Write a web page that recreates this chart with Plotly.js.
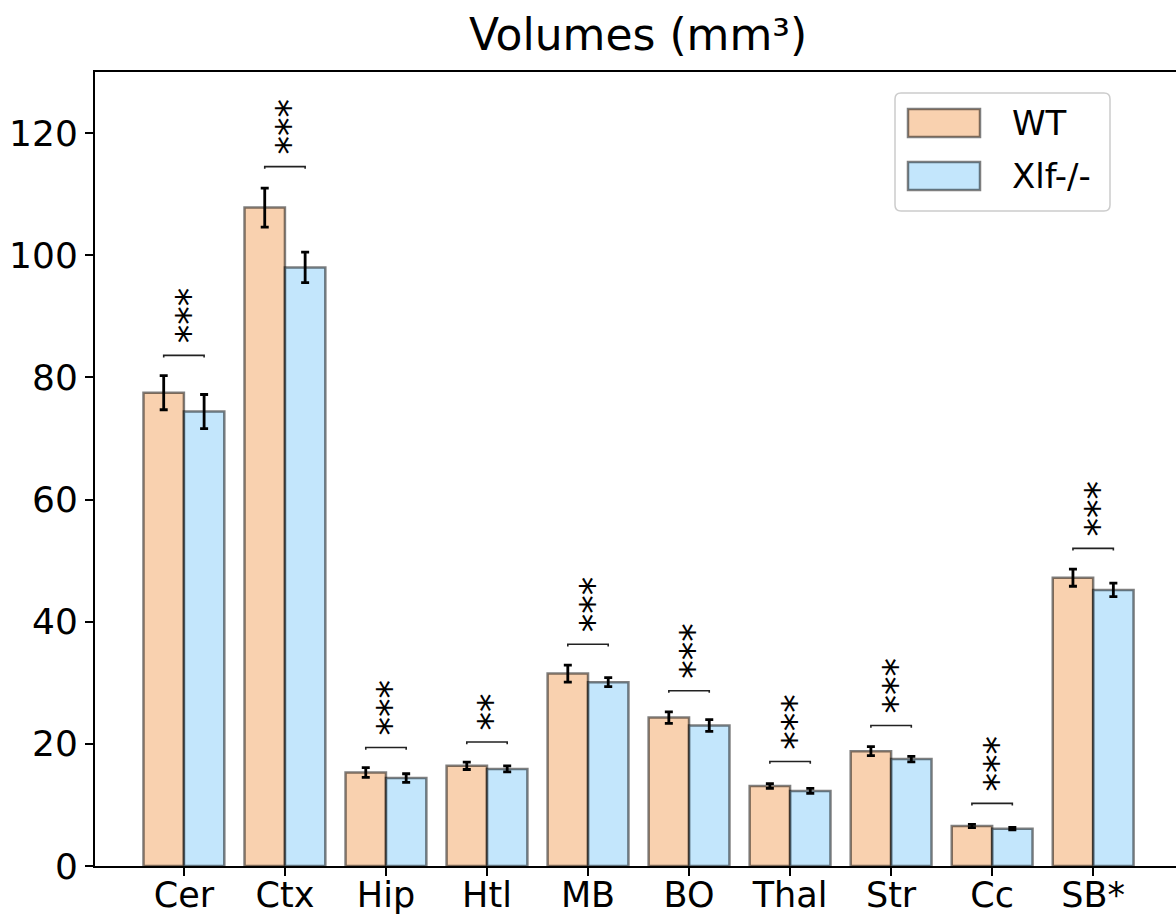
<!DOCTYPE html>
<html>
<head>
<meta charset="utf-8">
<script src="https://cdn.plot.ly/plotly-3.0.1.min.js"></script>
<style>html,body{margin:0;padding:0;background:#fff;}#chart{width:1176px;height:917px;}</style>
</head>
<body>
<div id="chart"></div>
<script>
const categories = ['Cer','Ctx','Hip','Htl','MB','BO','Thal','Str','Cc','SB*'];
const wtMean = [77.5,107.8,15.3,16.4,31.5,24.3,13.1,18.8,6.55,47.2];
const wtErr  = [2.8,3.2,0.8,0.6,1.4,0.95,0.4,0.74,0.27,1.4];
const koMean = [74.4,98.0,14.4,15.9,30.1,23.0,12.3,17.5,6.1,45.2];
const koErr  = [2.8,2.5,0.7,0.5,0.74,0.95,0.4,0.44,0.2,1.1];
const bracketY = [83.6,114.5,19.4,20.3,36.3,28.7,17.1,23.0,10.25,52.0];
const stars = ['***','***','***','**','***','***','***','***','***','***'];
const seriesNames = ['WT','Xlf-/-'];
const yTicks = [0,20,40,60,80,100,120];

const FONT = 'DejaVu Sans, Liberation Sans, sans-serif';
const W = 1176, H = 917;
const M = {l:95, r:0, t:72, b:51};
const idx = categories.map((_, i) => i);
const half = 0.2;

const wtFill = 'rgba(244,164,96,0.5)';
const koFill = 'rgba(135,206,250,0.5)';
const edge = 'rgba(0,0,0,0.5)';

const traces = [
  {type:'bar', name:seriesNames[0], x:idx, y:wtMean,
   marker:{color:wtFill, line:{color:edge, width:2.5}},
   error_y:{type:'data', array:wtErr, visible:true, color:'#000', thickness:2.8, width:4},
   showlegend:false, hoverinfo:'y'},
  {type:'bar', name:seriesNames[1], x:idx, y:koMean,
   marker:{color:koFill, line:{color:edge, width:2.5}},
   error_y:{type:'data', array:koErr, visible:true, color:'#000', thickness:2.8, width:4},
   showlegend:false, hoverinfo:'y'}
];

// significance brackets
const bx = [], by = [];
const tick = 0.35;
idx.forEach(i => {
  const h = bracketY[i];
  bx.push(i-half, i-half, i+half, i+half, null);
  by.push(h-tick, h, h, h-tick, null);
});
traces.push({type:'scatter', mode:'lines', x:bx, y:by, line:{color:'#222', width:1.6},
  showlegend:false, hoverinfo:'skip'});

const annotations = idx.map(i => ({
  x:i, y:bracketY[i], xref:'x', yref:'y', text:stars[i], showarrow:false,
  textangle:-90, xanchor:'center', yanchor:'bottom', yshift:10, xshift:6,
  font:{family:FONT, size:37, color:'#000'}
}));

// legend (drawn in paper coordinates)
const pw = W - M.l - M.r, ph = H - M.t - M.b;
const px = v => (v - M.l) / pw;
const py = v => (H - M.b - v) / ph;
const shapes = [];
function roundRect(x0,y0,x1,y1,r){
  const X0=px(x0),X1=px(x1),Y0=py(y0),Y1=py(y1);
  const rx=r/pw, ry=r/ph;
  return `M${X0+rx},${Y0} L${X1-rx},${Y0} Q${X1},${Y0} ${X1},${Y0-ry} L${X1},${Y1+ry} Q${X1},${Y1} ${X1-rx},${Y1} L${X0+rx},${Y1} Q${X0},${Y1} ${X0},${Y1+ry} L${X0},${Y0-ry} Q${X0},${Y0} ${X0+rx},${Y0} Z`;
}
shapes.push({type:'path', xref:'paper', yref:'paper', path:roundRect(895,93,1110,211,6),
  fillcolor:'rgba(255,255,255,0.8)', line:{color:'#cccccc', width:1.5}});
const legFills = [wtFill, koFill];
const legY = [123, 176];
seriesNames.forEach((n, k) => {
  shapes.push({type:'rect', xref:'paper', yref:'paper',
    x0:px(908), x1:px(980), y0:py(legY[k]-14), y1:py(legY[k]+14),
    fillcolor:legFills[k], line:{color:edge, width:2.5}});
  annotations.push({xref:'paper', yref:'paper', x:px(1010), y:py(legY[k]), text:n,
    showarrow:false, xanchor:'left', yanchor:'middle',
    font:{family:FONT, size:34, color:'#000'}});
});

const layout = {
  width:W, height:H,
  margin:M,
  paper_bgcolor:'#fff', plot_bgcolor:'#fff',
  title:{text:'Volumes (mm³)', font:{family:FONT, size:44, color:'#000'},
    x:(470+806)/2/W, xanchor:'center', y:1-35/H, yanchor:'middle', yref:'container', xref:'container'},
  barmode:'group', bargap:0.2, bargroupgap:0,
  xaxis:{range:[-0.88, 9.82], tickmode:'array', tickvals:idx, ticktext:categories,
    showgrid:false, zeroline:false, showline:true, mirror:true, linecolor:'#000', linewidth:2,
    ticks:'outside', ticklen:8, tickwidth:2, tickcolor:'#000', ticklabelstandoff:-11,
    tickfont:{family:FONT, size:35, color:'#000'}, fixedrange:true},
  yaxis:{range:[0,130], tickmode:'array', tickvals:yTicks,
    showgrid:false, zeroline:false, showline:true, linecolor:'#000', linewidth:2,
    ticks:'outside', ticklen:8, tickwidth:2, tickcolor:'#000',
    tickfont:{family:FONT, size:36, color:'#000'}, fixedrange:true},
  shapes:shapes,
  annotations:annotations,
  showlegend:false
};

Plotly.newPlot('chart', traces, layout, {displayModeBar:false, staticPlot:true});
</script>
</body>
</html>
